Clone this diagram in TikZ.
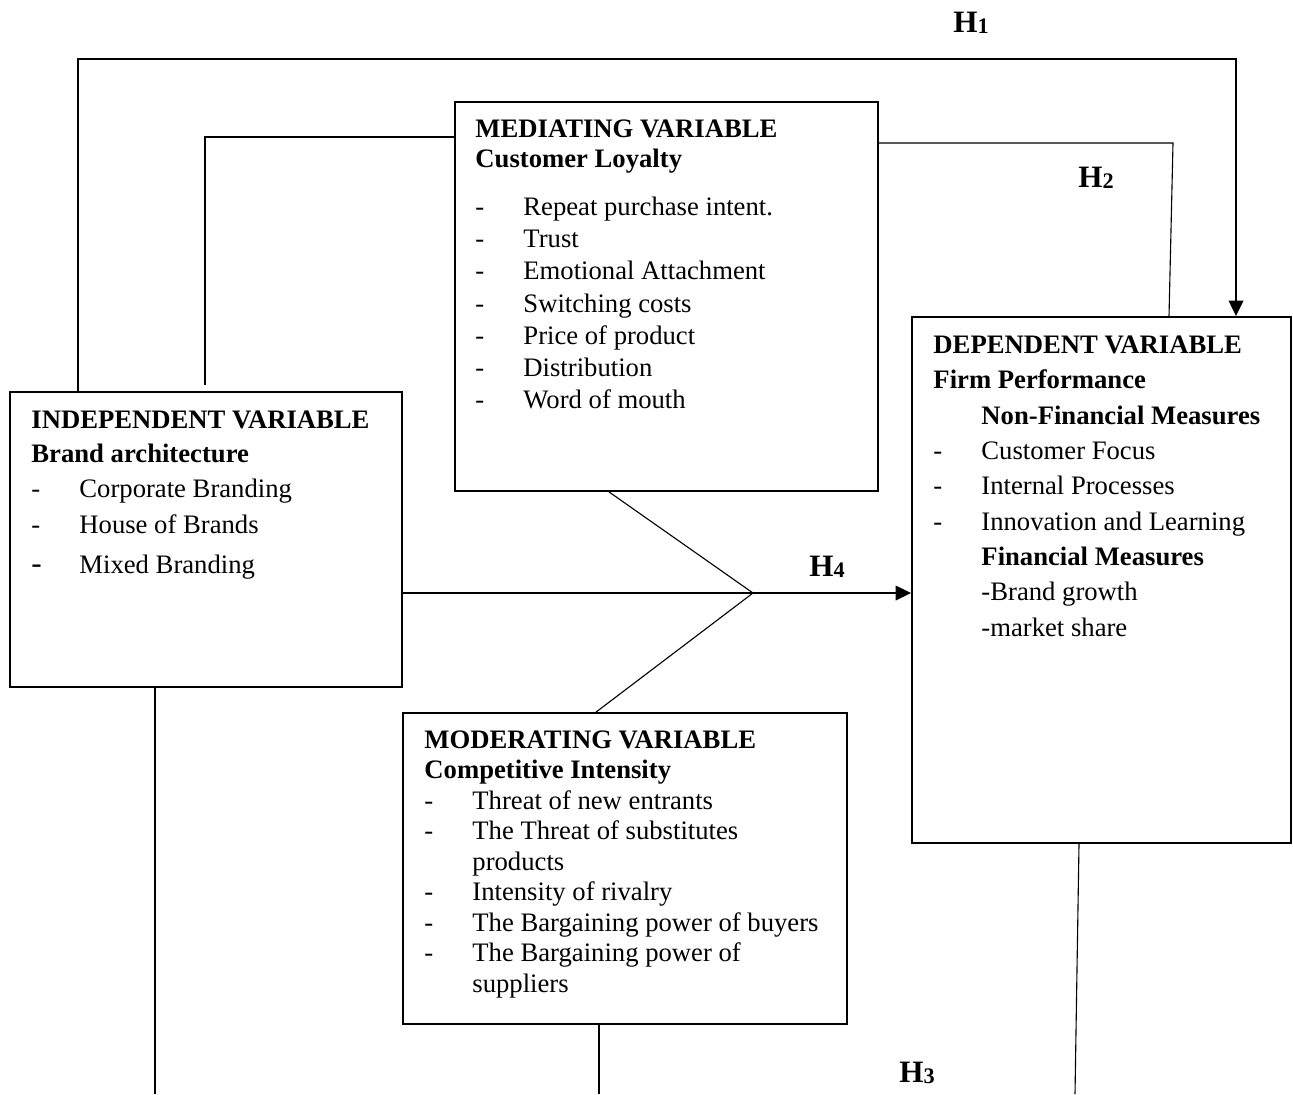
\documentclass[tikz,border=0pt]{standalone}
\usepackage{fontspec}
\setmainfont{Liberation Serif}
\usetikzlibrary{arrows.meta}
\newcommand{\itm}[1]{\makebox[21.6pt][l]{-}#1}
\newcommand{\tstrut}{\rule{0pt}{9pt}}
\newcommand{\hsub}[1]{\raisebox{-0.5pt}{\fontsize{10}{12}\selectfont #1}}

\begin{document}
\begin{tikzpicture}[
  x=0.45pt, y=-0.45pt,
  block/.style={rectangle, draw, line width=0.8pt},
  txt/.style={anchor=north west, inner sep=0pt, align=left},
  hlabel/.style={anchor=base west, inner sep=0pt, font=\fontsize{14}{16}\selectfont\bfseries},
  link/.style={line width=0.5pt},
  hyp/.style={line width=1.1pt, -{Triangle[length=7pt,width=6.5pt]}}
]
\useasboundingbox (0,0) rectangle (1293,1094);

\node[block, minimum width=176.4pt, minimum height=132.75pt] (indep) at (206,539.5) {};
\node[block, minimum width=190.35pt, minimum height=175.05pt] (med) at (666.5,296.5) {};
\node[block, minimum width=170.55pt, minimum height=236.7pt] (dep) at (1101.5,580) {};
\node[block, minimum width=199.8pt, minimum height=139.95pt] (mod) at (625,868.5) {};

\node[txt, font=\fontsize{12}{15.75}\selectfont] (indeptxt) at (31,408) {\tstrut\textbf{INDEPENDENT VARIABLE}\\[-0.45pt]
\textbf{Brand architecture}\\
\itm{Corporate Branding}\\[0.45pt]
\itm{House of Brands}\\[2.25pt]
\makebox[21.6pt][l]{\fontsize{14}{14}\selectfont -}Mixed Branding};

\node[txt, font=\fontsize{12}{14.5}\selectfont] (medtxt) at (475,117) {\tstrut\textbf{MEDIATING VARIABLE}\\[-1pt]
\textbf{Customer Loyalty}\\[7.1pt]
\itm{Repeat purchase intent.}\\
\itm{Trust}\\
\itm{Emotional Attachment}\\
\itm{Switching costs}\\
\itm{Price of product}\\
\itm{Distribution}\\
\itm{Word of mouth}};

\node[txt, font=\fontsize{12}{15.9}\selectfont] (deptxt) at (933,333) {\tstrut\textbf{DEPENDENT VARIABLE}\\
\textbf{Firm Performance}\\
\hspace*{21.6pt}\textbf{Non-Financial Measures}\\
\itm{Customer Focus}\\
\itm{Internal Processes}\\
\itm{Innovation and Learning}\\
\hspace*{21.6pt}\textbf{Financial Measures}\\
\hspace*{21.6pt}-Brand growth\\
\hspace*{21.6pt}-market share};

\node[txt, font=\fontsize{12}{13.7}\selectfont] (modtxt) at (424,728) {\tstrut\textbf{MODERATING VARIABLE}\\
\textbf{Competitive Intensity}\\
\itm{Threat of new entrants}\\
\itm{The Threat of substitutes}\\
\hspace*{21.6pt}products\\
\itm{Intensity of rivalry}\\
\itm{The Bargaining power of buyers}\\
\itm{The Bargaining power of}\\
\hspace*{21.6pt}suppliers};

\node[hlabel] (h1) at (953,32) {H\hsub{1}};
\node[hlabel] (h2) at (1078,187) {H\hsub{2}};
\node[hlabel] (h4) at (809,576) {H\hsub{4}};
\node[hlabel] (h3) at (899,1082) {H\hsub{3}};

\coordinate (medgap) at (205,385);
\coordinate (meet) at (753,593);
\coordinate (indbot) at (155,1094);
\coordinate (modbot) at (599,1094);
\coordinate (depbot) at (1075,1094);

\draw[hyp] (indep.north -| 78,0) |- (1236,59) -- (dep.north -| 1236,0);
\draw[link] (med.west |- 0,137) -| (medgap);
\draw[link] (med.east |- 0,143) -- (1173,143) -- (dep.north -| 1169,0);
\draw[hyp] (indep.east |- 0,593) -- (dep.west |- 0,593);
\draw[link] (med.south -| 609,0) -- (meet) -- (mod.north -| 596,0);
\draw[link] (indep.south -| 155,0) -- (indbot);
\draw[link] (mod.south -| 599,0) -- (modbot);
\draw[link] (dep.south -| 1079,0) -- (depbot);
\end{tikzpicture}
\end{document}
